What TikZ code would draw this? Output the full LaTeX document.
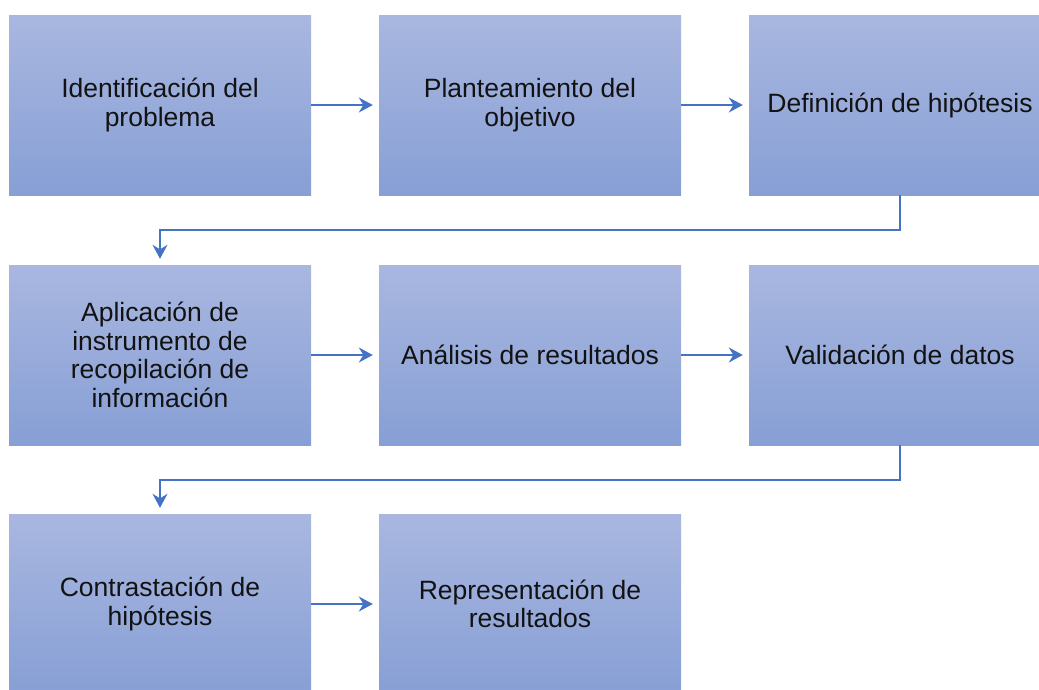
\documentclass[tikz,border=0pt]{standalone}
\usepackage{fontspec}
\setmainfont{Liberation Sans}
\usetikzlibrary{arrows.meta}
\definecolor{boxtop}{HTML}{A9B7E0}
\definecolor{boxbot}{HTML}{879FD5}
\definecolor{arrowc}{HTML}{4472C4}
\tikzset{
  stepbox/.style={rectangle, minimum width=302pt, minimum height=180pt, inner sep=0pt,
    top color=boxtop, bottom color=boxbot, draw=none, align=center,
    font=\fontsize{26.5}{28.5}\selectfont, text=black!93},
  conn/.style={draw=arrowc, line width=1.6pt, -{Stealth[length=14pt,width=15pt]}, shorten >=6pt}
}
\begin{document}
\begin{tikzpicture}[x=1pt,y=-1pt]
\useasboundingbox (0,0) rectangle (1039,689);
\node[stepbox] (b1) at (160,105) {Identificación del\\problema};
\node[stepbox] (b2) at (530,105) {Planteamiento del\\objetivo};
\node[stepbox] (b3) at (900,105) {Definición de hipótesis};
\node[stepbox] (b4) at (160,355) {Aplicación de\\instrumento de\\recopilación de\\información};
\node[stepbox] (b5) at (530,355) {Análisis de resultados};
\node[stepbox] (b6) at (900,355) {Validación de datos};
\node[stepbox] (b7) at (160,604) {Contrastación de\\hipótesis};
\node[stepbox] (b8) at (530,604) {Representación de\\resultados};
\draw[conn] (b1.east) -- (b2.west);
\draw[conn] (b2.east) -- (b3.west);
\draw[conn] (b4.east) -- (b5.west);
\draw[conn] (b5.east) -- (b6.west);
\draw[conn] (b7.east) -- (b8.west);
\draw[conn] (b3.south) -- ++(0,35) -| (b4.north);
\draw[conn] (b6.south) -- ++(0,35) -| (b7.north);
\end{tikzpicture}
\end{document}
